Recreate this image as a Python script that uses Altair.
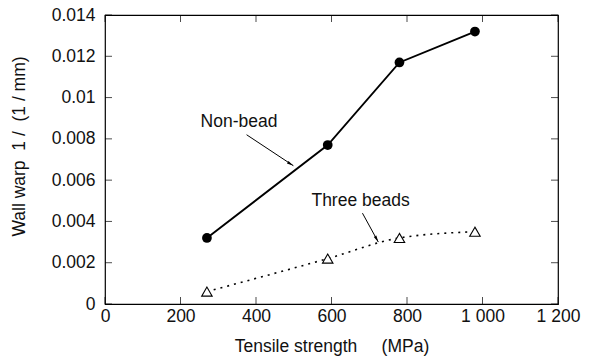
import altair as alt
import pandas as pd

# Data
strength = [270, 590, 780, 980]
non_bead = [0.0032, 0.0077, 0.0117, 0.0132]
three_beads = [0.0006, 0.0022, 0.0032, 0.0035]

x_ticks = [0, 200, 400, 600, 800, 1000, 1200]
y_ticks = [0, 0.002, 0.004, 0.006, 0.008, 0.010, 0.012, 0.014]

# annotations: label, text position, arrow start, arrow end, arrow angle
ann_label = ["Non-bead", "Three beads"]
ann_tx = [355, 677]
ann_ty = [0.0088, 0.0050]
arr_x1 = [375, 682]
arr_y1 = [0.0082, 0.0044]
arr_x2 = [499, 724]
arr_y2 = [0.0067, 0.0030]
arr_angle = [122, 151]

FONT = "Liberation Sans"
FS = 17.5
NB = "\u00a0"

df = pd.DataFrame({
    "s": strength * 2,
    "w": non_bead + three_beads,
    "series": ["Non-bead"] * 4 + ["Three beads"] * 4,
})
ann = pd.DataFrame({"label": ann_label, "tx": ann_tx, "ty": ann_ty,
                    "x1": arr_x1, "y1": arr_y1, "x2": arr_x2, "y2": arr_y2,
                    "angle": arr_angle})

xs = alt.Scale(domain=[0, 1200], nice=False, zero=False)
ys = alt.Scale(domain=[0, 0.014], nice=False, zero=False)

xaxis = alt.Axis(values=x_ticks, grid=False, ticks=False, domain=False,
                 labelPadding=3, titlePadding=13, labelFlush=False,
                 labelExpr="replace(format(datum.value, ','), ',', '\u00a0')",
                 title="Tensile strength" + NB * 5 + "(MPa)")
yaxis = alt.Axis(values=y_ticks, grid=False, ticks=False, domain=False,
                 labelPadding=10, titlePadding=23, format="~g",
                 labelFlush=False, titleY=131,
                 title="Wall warp" + NB * 2 + "1 /" + NB * 2 + "(1 / mm)")

base = alt.Chart(df)

nb = base.transform_filter(alt.datum.series == "Non-bead")
tb = base.transform_filter(alt.datum.series == "Three beads")

line_nb = nb.mark_line(color="black", strokeWidth=1.9).encode(
    x=alt.X("s:Q", scale=xs, axis=xaxis),
    y=alt.Y("w:Q", scale=ys, axis=yaxis),
)
pts_nb = nb.mark_point(filled=True, color="black", size=95, opacity=1).encode(
    x=alt.X("s:Q", scale=xs), y=alt.Y("w:Q", scale=ys))

line_tb = tb.mark_line(color="black", strokeWidth=1.6, strokeDash=[2, 5],
                       interpolate="monotone").encode(
    x=alt.X("s:Q", scale=xs), y=alt.Y("w:Q", scale=ys))
pts_tb = tb.mark_point(shape="triangle-up", filled=False, color="black",
                       fill="white", fillOpacity=1, size=110, strokeWidth=1.1,
                       opacity=1).encode(
    x=alt.X("s:Q", scale=xs), y=alt.Y("w:Q", scale=ys))

a = alt.Chart(ann)
texts = a.mark_text(font=FONT, fontSize=FS, color="#111").encode(
    x=alt.X("tx:Q", scale=xs), y=alt.Y("ty:Q", scale=ys), text="label:N")
arrows = a.mark_rule(color="black", strokeWidth=1).encode(
    x=alt.X("x1:Q", scale=xs), y=alt.Y("y1:Q", scale=ys),
    x2="x2:Q", y2="y2:Q")
heads = a.mark_point(shape="M0,0L-0.35,1.6L0.35,1.6Z", filled=True,
                     color="black", size=70, opacity=1).encode(
    x=alt.X("x2:Q", scale=xs), y=alt.Y("y2:Q", scale=ys),
    angle=alt.Angle("angle:Q", scale=None))

xt = pd.DataFrame({"v": x_ticks})
yt = pd.DataFrame({"v": y_ticks})
TL = 7
tick_b = alt.Chart(xt).mark_tick(orient="vertical", size=TL, thickness=1,
                                 color="black", yOffset=-TL / 2).encode(
    x=alt.X("v:Q", scale=xs), y=alt.datum(0, scale=ys))
tick_t = alt.Chart(xt).mark_tick(orient="vertical", size=TL, thickness=1,
                                 color="black", yOffset=TL / 2).encode(
    x=alt.X("v:Q", scale=xs), y=alt.datum(0.014, scale=ys))
tick_l = alt.Chart(yt).mark_tick(orient="horizontal", size=TL, thickness=1,
                                 color="black", xOffset=TL / 2).encode(
    y=alt.Y("v:Q", scale=ys), x=alt.datum(0, scale=xs))
tick_r = alt.Chart(yt).mark_tick(orient="horizontal", size=TL, thickness=1,
                                 color="black", xOffset=-TL / 2).encode(
    y=alt.Y("v:Q", scale=ys), x=alt.datum(1200, scale=xs))

chart = alt.layer(
    line_nb, line_tb, pts_nb, pts_tb, arrows, heads, texts,
    tick_b, tick_t, tick_l, tick_r,
).properties(
    width=453, height=289,
    autosize=alt.AutoSizeParams(type="none"),
    padding={"left": 105, "top": 15, "right": 31, "bottom": 56},
    background="white",
).configure_view(
    stroke="black", strokeWidth=1.2,
).configure_axis(
    labelFont=FONT, titleFont=FONT, labelFontSize=FS, titleFontSize=FS,
    labelColor="#111", titleColor="#111", titleFontWeight="normal",
)

chart.save("out.html", embed_options={"renderer": "svg", "actions": False})
